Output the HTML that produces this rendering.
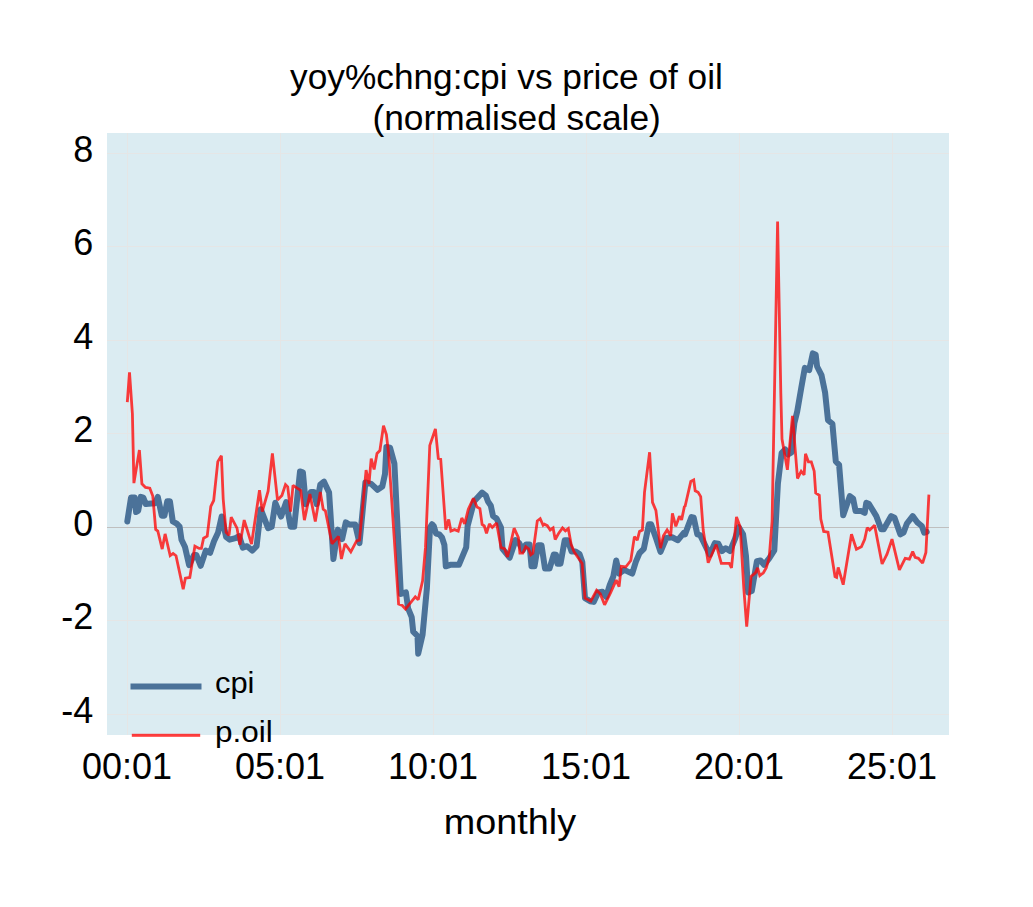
<!DOCTYPE html>
<html><head><meta charset="utf-8"><style>
html,body{margin:0;padding:0;background:#fff;width:1033px;height:907px;overflow:hidden}
svg{position:absolute;left:0;top:0;display:block}
</style></head><body>
<svg width="1033" height="907" viewBox="0 0 1033 907">
<rect x="0" y="0" width="1033" height="907" fill="#fff"/>
<rect x="107" y="133" width="842" height="602" fill="#DBECF2"/>
<rect x="127" y="133" width="1" height="602" fill="#E5E6E6"/><rect x="280" y="133" width="1" height="602" fill="#E5E6E6"/><rect x="433" y="133" width="1" height="602" fill="#E5E6E6"/><rect x="586" y="133" width="1" height="602" fill="#E5E6E6"/><rect x="739" y="133" width="1" height="602" fill="#E5E6E6"/><rect x="892" y="133" width="1" height="602" fill="#E5E6E6"/>
<rect x="107" y="153" width="842" height="1" fill="#E5E6E6"/><rect x="107" y="246" width="842" height="1" fill="#E5E6E6"/><rect x="107" y="340" width="842" height="1" fill="#E5E6E6"/><rect x="107" y="433" width="842" height="1" fill="#E5E6E6"/><rect x="107" y="620" width="842" height="1" fill="#E5E6E6"/><rect x="107" y="714" width="842" height="1" fill="#E5E6E6"/>
<rect x="107" y="527" width="842" height="1" fill="#BFBFBF"/>
<polyline fill="none" stroke="#4B7299" stroke-width="6" stroke-linejoin="round" stroke-linecap="round" points="127.3,521.5 131.0,497.6 134.6,497.6 136.1,512.1 138.2,510.7 140.8,496.9 143.3,497.6 145.8,504.1 151.3,503.4 154.9,503.4 157.8,496.9 161.8,515.7 164.4,515.7 167.3,501.2 169.9,501.2 172.8,521.5 176.7,523.7 179.6,526.6 181.5,539.7 185.0,547.0 189.1,565.1 194.1,554.9 196.3,554.9 200.7,565.8 205.8,550.6 210.1,552.8 214.0,541.2 218.1,532.4 221.7,516.5 226.1,536.8 229.7,539.7 235.5,538.2 239.2,536.1 242.8,547.7 247.1,546.2 252.2,550.6 256.6,546.2 260.8,509.3 268.1,528.2 271.7,526.7 275.3,502.8 281.1,516.6 286.2,502.0 290.6,526.7 294.2,526.7 300.0,471.5 302.9,472.3 305.8,504.2 310.9,491.9 313.8,491.9 316.7,504.2 320.3,484.6 324.0,481.7 329.1,492.6 333.4,559.0 337.8,529.6 342.1,539.1 345.8,522.4 349.4,524.5 355.2,524.5 359.5,543.1 365.4,482.4 371.2,483.9 377.5,489.8 382.3,486.5 385.0,474.0 386.4,446.9 390.0,447.6 394.4,463.6 400.8,593.9 405.9,592.4 408.1,608.4 411.7,617.1 413.2,631.6 417.5,636.0 418.2,653.7 422.6,634.5 426.9,588.1 430.0,527.5 432.0,524.2 433.8,526.0 436.0,533.5 439.2,534.3 442.0,537.5 444.4,545.0 445.8,566.3 450.2,564.8 458.9,564.8 466.2,547.4 467.6,526.0 474.1,501.3 482.1,492.6 485.8,495.5 487.9,501.3 490.8,505.7 493.0,515.8 496.6,518.7 501.0,527.5 502.5,548.9 509.7,557.6 515.5,540.2 519.2,543.1 522.8,550.3 526.0,544.5 529.5,544.5 531.5,566.3 534.5,566.3 538.0,545.2 541.5,545.2 545.0,568.6 549.5,568.6 553.8,554.5 556.0,554.8 557.5,563.8 560.5,563.8 564.7,540.3 567.7,540.3 571.6,551.5 575.6,551.5 579.5,554.0 582.3,562.0 585.0,598.2 590.1,601.2 593.7,601.9 598.1,592.4 602.4,591.7 606.1,596.8 609.7,585.2 613.3,576.5 616.2,560.5 619.1,573.6 624.2,569.9 632.2,573.6 635.8,561.9 639.5,553.2 643.8,548.9 648.9,524.2 651.1,524.2 656.2,538.7 660.5,551.8 666.3,538.0 672.1,537.3 677.9,540.2 683.8,532.9 685.0,534.4 691.5,517.0 693.7,517.7 697.3,534.4 700.2,535.1 709.7,554.7 714.8,543.1 718.4,543.8 722.0,551.1 725.7,548.2 730.0,551.1 735.1,538.7 738.7,527.1 743.1,534.4 746.0,556.1 748.2,592.4 751.8,591.0 756.9,561.2 760.5,560.5 764.1,564.8 769.2,558.3 774.3,550.3 777.9,483.6 781.6,453.1 785.2,449.4 788.1,454.5 791.5,452.5 792.9,436.0 794.4,423.0 797.2,411.5 801.2,388.2 804.8,367.9 809.2,370.1 812.8,353.4 815.7,354.8 817.1,366.5 821.5,375.2 825.1,392.6 828.0,420.2 832.4,423.8 835.8,461.5 839.1,464.8 843.2,515.3 849.8,496.2 853.1,498.7 855.6,511.1 861.4,511.1 864.7,512.8 866.3,502.8 868.8,503.7 876.3,516.1 881.2,529.3 883.7,529.3 891.2,516.1 894.5,517.7 900.3,534.3 903.6,532.6 906.9,523.5 912.7,516.1 917.6,522.7 921.8,526.0 924.2,532.6 926.7,531.8"/>
<polyline fill="none" stroke="#FF0000" stroke-opacity="0.76" stroke-width="2.8" stroke-linejoin="miter" stroke-miterlimit="2" stroke-linecap="butt" points="127.3,402.1 129.5,372.3 132.4,413.7 133.9,483.1 139.4,450.0 141.9,483.8 145.5,487.4 149.8,488.2 152.8,496.1 155.7,529.5 157.8,531.0 162.2,549.1 165.1,533.9 170.2,555.7 173.1,553.5 176.0,555.7 183.2,589.1 185.4,578.2 189.8,577.5 194.9,546.2 199.2,548.4 201.4,548.4 203.6,538.2 207.2,536.1 210.8,506.3 213.7,500.5 217.8,461.6 221.4,455.8 223.2,499.0 226.1,532.4 229.0,535.3 231.2,517.2 237.0,528.1 239.9,544.8 244.2,520.1 247.1,529.5 251.5,544.1 259.5,490.3 262.3,511.5 268.1,491.2 272.4,453.4 277.5,499.9 281.9,495.5 285.5,484.6 287.7,486.8 290.6,511.5 293.0,485.3 297.1,488.2 300.7,490.4 304.4,520.2 309.9,494.1 315.3,521.6 320.3,491.9 323.2,509.3 325.4,510.8 332.0,543.8 338.5,536.5 341.4,559.0 345.0,543.8 350.8,551.8 356.6,540.9 359.5,540.2 366.1,470.1 369.0,483.9 371.2,458.5 374.1,469.4 377.0,453.4 379.9,450.5 383.5,425.8 386.4,434.5 388.6,453.4 398.6,604.1 402.3,605.5 405.5,609.1 408.8,604.8 415.3,596.8 418.2,599.7 422.6,580.8 425.5,547.4 429.8,445.4 435.4,429.0 438.3,458.5 440.7,459.2 445.8,529.6 448.7,519.5 450.9,531.1 454.5,529.6 458.2,531.1 461.8,518.0 464.7,523.8 468.3,509.3 473.4,498.4 477.0,507.1 479.9,508.6 482.1,524.5 484.3,526.0 486.5,533.3 489.4,523.8 492.3,527.5 496.6,523.1 501.0,547.4 504.6,548.9 507.5,556.9 510.4,544.5 514.1,528.2 518.4,537.6 519.9,553.2 522.8,553.2 525.7,546.7 528.6,548.9 530.8,554.7 532.9,553.2 537.3,520.9 540.2,518.7 543.1,525.3 544.4,524.2 547.3,525.7 550.2,530.0 553.1,527.9 555.2,539.5 558.9,532.9 562.5,527.9 565.4,530.8 568.3,528.6 571.2,544.5 574.1,551.8 578.5,558.3 582.1,563.4 585.0,598.2 590.8,601.2 596.6,590.3 600.3,593.9 604.6,604.8 610.4,593.2 616.2,580.1 619.1,586.6 621.3,566.3 625.7,567.0 630.8,560.5 634.4,536.6 637.3,540.2 639.5,531.5 642.4,530.0 644.5,492.3 649.6,452.3 652.5,502.4 655.9,510.4 660.5,548.2 663.4,535.8 667.1,530.0 670.7,535.8 672.4,513.3 675.8,526.4 679.4,516.2 681.6,519.9 684.5,506.1 685.0,506.8 690.8,481.4 693.7,479.9 695.2,490.8 698.1,492.3 700.7,496.6 703.2,530.0 708.2,562.7 716.2,544.5 721.3,563.4 729.3,563.4 731.5,567.8 736.5,517.0 740.2,527.1 743.8,588.1 746.7,626.6 751.1,576.5 755.4,572.8 757.6,567.8 759.8,575.7 763.4,572.8 766.3,567.8 769.2,557.6 772.1,521.3 777.6,221.5 780.8,392.6 782.0,439.1 787.4,469.8 792.5,415.8 797.5,478.5 801.2,471.2 804.1,474.8 805.5,453.8 808.4,461.8 811.3,461.8 814.2,471.2 815.7,493.0 819.3,495.2 820.8,519.1 823.7,531.5 828.0,532.2 835.0,576.5 836.6,577.3 838.2,567.4 843.2,584.7 851.5,534.3 856.4,549.2 861.4,546.7 864.7,539.2 867.2,527.7 869.7,530.1 874.6,525.2 882.1,564.0 887.0,554.1 892.0,539.2 899.4,569.8 905.2,558.3 909.4,559.1 912.7,551.6 915.1,557.4 918.4,558.3 922.6,563.2 925.9,552.5 928.9,494.6"/>
<rect x="130.5" y="683.5" width="71" height="6" fill="#4B7299"/>
<rect x="131.8" y="733.8" width="68.4" height="3" fill="#FF0000" fill-opacity="0.76"/>
<g font-family="Liberation Sans" fill="#000">
<text x="505.25" y="89" text-anchor="middle" font-size="35" transform="translate(505.25,0) scale(1.007,1) translate(-504,0)">yoy%chng:cpi vs price of oil</text>
<text x="515.8" y="129.6" text-anchor="middle" font-size="35" transform="translate(515.8,0) scale(1.009,1) translate(-515,0)">(normalised scale)</text>
<text x="93.3" y="161.5" text-anchor="end" font-size="36">8</text><text x="93.3" y="254.5" text-anchor="end" font-size="36">6</text><text x="93.3" y="348.5" text-anchor="end" font-size="36">4</text><text x="93.3" y="441.5" text-anchor="end" font-size="36">2</text><text x="93.3" y="535.5" text-anchor="end" font-size="36">0</text><text x="93.3" y="628.5" text-anchor="end" font-size="36">-2</text><text x="93.3" y="722.5" text-anchor="end" font-size="36">-4</text>
<text x="127.0" y="778.8" text-anchor="middle" font-size="36">00:01</text><text x="280.0" y="778.8" text-anchor="middle" font-size="36">05:01</text><text x="433.0" y="778.8" text-anchor="middle" font-size="36">10:01</text><text x="586.0" y="778.8" text-anchor="middle" font-size="36">15:01</text><text x="739.0" y="778.8" text-anchor="middle" font-size="36">20:01</text><text x="892.0" y="778.8" text-anchor="middle" font-size="36">25:01</text>
<text x="510.5" y="833.7" text-anchor="middle" font-size="35" transform="translate(510.5,0) scale(1.08,1) translate(-511,0)">monthly</text>
<text x="215" y="693.3" font-size="30" transform="translate(215,0) scale(1.03,1) translate(-215,0)">cpi</text>
<text x="215" y="741.7" font-size="30" transform="translate(215,0) scale(1.05,1) translate(-215,0)">p.oil</text>
</g>
</svg>
</body></html>
